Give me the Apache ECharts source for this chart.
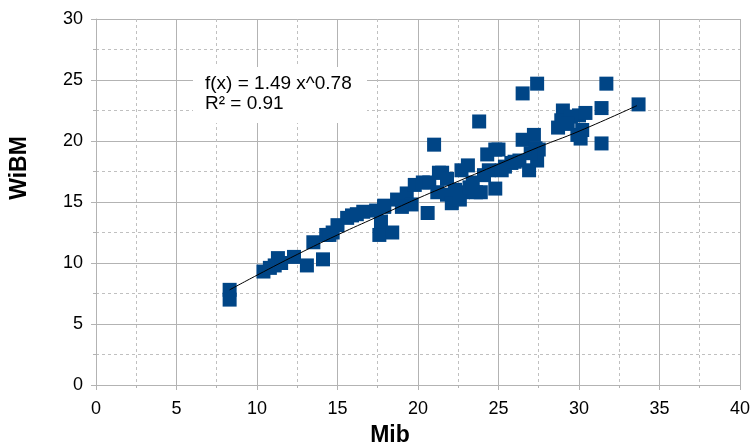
<!DOCTYPE html>
<html>
<head>
<meta charset="utf-8">
<script src="https://cdn.jsdelivr.net/npm/echarts@6/dist/echarts.min.js"></script>
<style>
  html, body { margin: 0; padding: 0; background: #fff; }
  #chart { width: 753px; height: 446px; }
</style>
</head>
<body>
<div id="chart"></div>
<script>
// data
const mib = [
  8.3, 8.3, 10.4, 10.8, 11.1, 11.3, 11.5, 12.3, 13.1, 13.5,
  14.1, 14.3, 14.5, 14.7, 15.0, 15.6, 15.9, 16.6, 17.4, 17.9,
  17.6, 17.7, 18.4, 17.9, 18.7, 19.3, 19.6, 19.8, 20.3, 20.6,
  20.7, 21.0, 21.2, 21.3, 21.5, 21.8, 21.8, 22.1, 22.7, 23.1,
  22.8, 22.6, 23.2, 23.6, 23.9, 23.8, 24.3, 24.8, 25.0, 24.4,
  24.8, 25.4, 25.8, 26.3, 26.5, 27.2, 26.9, 27.4, 27.5, 27.3,
  26.5, 27.4, 28.7, 29.0, 28.9, 29.5, 29.9, 30.0, 30.4, 30.2,
  31.4, 31.4, 31.7, 33.7, 16.2, 19.0, 22.3, 23.4, 24.1, 25.2,
  26.0, 27.0, 29.3, 30.1
]
const wibm = [
  7.8, 7.0, 9.3, 9.6, 9.8, 10.4, 10.0, 10.5, 9.8, 11.7,
  10.3, 12.3, 12.3, 12.5, 13.1, 13.7, 13.9, 14.2, 14.3, 14.7,
  12.3, 13.4, 12.5, 14.6, 15.2, 15.7, 14.8, 16.4, 16.6, 14.1,
  16.6, 19.7, 15.8, 17.4, 17.4, 16.9, 15.6, 14.9, 17.6, 18.0,
  15.8, 15.2, 16.2, 15.8, 15.8, 21.6, 18.9, 19.3, 19.3, 17.6,
  16.1, 17.9, 18.2, 18.4, 20.1, 20.5, 17.6, 18.4, 19.3, 19.4,
  23.9, 24.7, 21.1, 22.5, 21.7, 22.0, 20.5, 22.1, 22.3, 20.9,
  22.7, 19.8, 24.7, 23.0, 14.0, 14.6, 16.0, 16.6, 17.2, 17.6,
  18.3, 19.0, 21.4, 20.2
]
// trend line points
const trendX = [8.3, 10, 12.5, 15, 17.5, 20, 22.5, 25, 27.5, 30, 33.6]
const trendY = [7.8, 9.0, 10.7, 12.3, 13.8, 15.3, 16.7, 18.1, 19.5, 20.8, 22.9]

const xTicks = [0, 40, 5]
const yTicks = [0, 30, 5]

const fontName = '"Liberation Sans", Arial, sans-serif'

function axisCfg(range, margin) {
  return {
    type: 'value',
    min: range[0],
    max: range[1],
    interval: range[2],
    axisLine: { show: true, lineStyle: { color: '#b3b3b3', width: 1 } },
    axisTick: { show: true, inside: false, length: 5, lineStyle: { color: '#b3b3b3' } },
    minorTick: { show: true, splitNumber: 2, length: 3, lineStyle: { color: '#b3b3b3' } },
    splitLine: { show: true, lineStyle: { color: '#b3b3b3', width: 1 } },
    minorSplitLine: { show: true, lineStyle: { color: '#c0c0c0', width: 1, type: [3, 3] } },
    axisLabel: { color: '#000', fontSize: 18, fontFamily: fontName, margin: margin }
  }
}

function renderChart() {
  const chartDom = document.getElementById('chart')
  const myChart = echarts.init(chartDom)
  const option = {
    backgroundColor: '#fff',
    animation: false,
    grid: { left: 96, right: 12, top: 19, bottom: 61 },
    xAxis: axisCfg(xTicks, 15),
    yAxis: axisCfg(yTicks, 13),
    graphic: [
      {
        type: 'text',
        x: 390, y: 436,
        style: {
          text: 'Mib', font: 'bold 23px ' + fontName, fill: '#000',
          align: 'center', verticalAlign: 'middle'
        }
      },
      {
        type: 'text',
        x: 20, y: 168,
        rotation: Math.PI / 2,
        style: {
          text: 'WiBM', font: 'bold 23px ' + fontName, fill: '#000',
          align: 'center', verticalAlign: 'middle'
        }
      },
      {
        type: 'rect',
        shape: { x: 193, y: 67, width: 174, height: 56 },
        style: { fill: '#fff' },
        z: 10
      },
      {
        type: 'text',
        left: 205, top: 74,
        z: 11,
        style: {
          text: 'f(x) = 1.49 x^0.78\nR² = 0.91',
          font: '19px ' + fontName,
          lineHeight: 20,
          fill: '#000'
        }
      }
    ],
    series: [
      {
        name: 'WiBM',
        type: 'scatter',
        symbol: 'rect',
        symbolSize: 14,
        itemStyle: { color: '#004586', opacity: 1 },
        data: mib.map((x, i) => [x, wibm[i]]),
        z: 3
      },
      {
        name: 'trend',
        type: 'line',
        smooth: true,
        showSymbol: false,
        lineStyle: { color: '#000', width: 1 },
        data: trendX.map((x, i) => [x, trendY[i]]),
        z: 4
      }
    ]
  }
  myChart.setOption(option)
}

document.addEventListener('DOMContentLoaded', renderChart)
</script>
</body>
</html>
